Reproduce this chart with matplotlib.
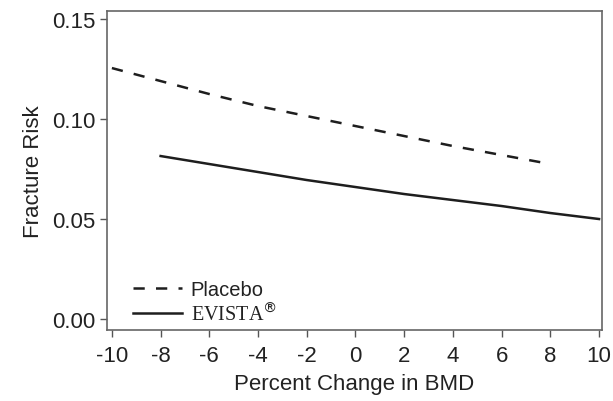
import matplotlib
matplotlib.use("Agg")
import matplotlib.pyplot as plt

# data
bmd_placebo = [-10, -8, -6, -4, -2, 0, 2, 4, 6, 8]
risk_placebo = [0.1255, 0.119, 0.1125, 0.1065, 0.1015, 0.0965, 0.0915, 0.0865, 0.082, 0.0775]

bmd_evista = [-8, -6, -4, -2, 0, 2, 4, 6, 8, 10]
risk_evista = [0.0815, 0.0775, 0.0735, 0.0695, 0.066, 0.0625, 0.0595, 0.0565, 0.053, 0.050]

x_ticks = [-10, -8, -6, -4, -2, 0, 2, 4, 6, 8, 10]
y_ticks = [0.00, 0.05, 0.10, 0.15]

plt.rcParams["font.family"] = ["Liberation Sans", "DejaVu Sans"]

fig = plt.figure(figsize=(6.13, 4.02), dpi=100)
ax = fig.add_axes([0.1746, 0.1766, 0.8074, 0.7934])

line_color = "#1e1e1e"
ax.plot(bmd_placebo, risk_placebo, color=line_color, linewidth=1.8,
        dashes=(4.5, 4.5), label="Placebo")
ax.plot(bmd_evista, risk_evista, color=line_color, linewidth=1.8,
        label=r"EVISTA$^{\circledR}$")

ax.set_xlim(-10.2, 10.12)
ax.set_ylim(-0.0055, 0.154)
ax.set_xticks(x_ticks)
ax.set_xticklabels([str(t) for t in x_ticks])
ax.set_yticks(y_ticks)
ax.set_yticklabels([f"{t:.2f}" for t in y_ticks])

ax.tick_params(axis="both", labelsize=16, direction="out", length=5,
               width=1, color="#555555", labelcolor="#222222")
ax.tick_params(axis="x", pad=6)
for s in ax.spines.values():
    s.set_color("#666666")
    s.set_linewidth(1.2)

ax.set_xlabel("Percent Change in BMD", fontsize=16, color="#222222", labelpad=5)
ax.set_ylabel("Fracture Risk", fontsize=16, color="#222222", labelpad=6)

leg = ax.legend(loc="lower left", frameon=False, fontsize=14.5, handlelength=2.4,
                handletextpad=0.45, labelspacing=0.2, borderaxespad=0.1,
                bbox_to_anchor=(0.033, -0.016))
for txt in leg.get_texts():
    if "EVISTA" in txt.get_text():
        txt.set_family(["Liberation Serif", "DejaVu Serif"])
    txt.set_color("#222222")

fig.savefig("out.png", dpi=100)
